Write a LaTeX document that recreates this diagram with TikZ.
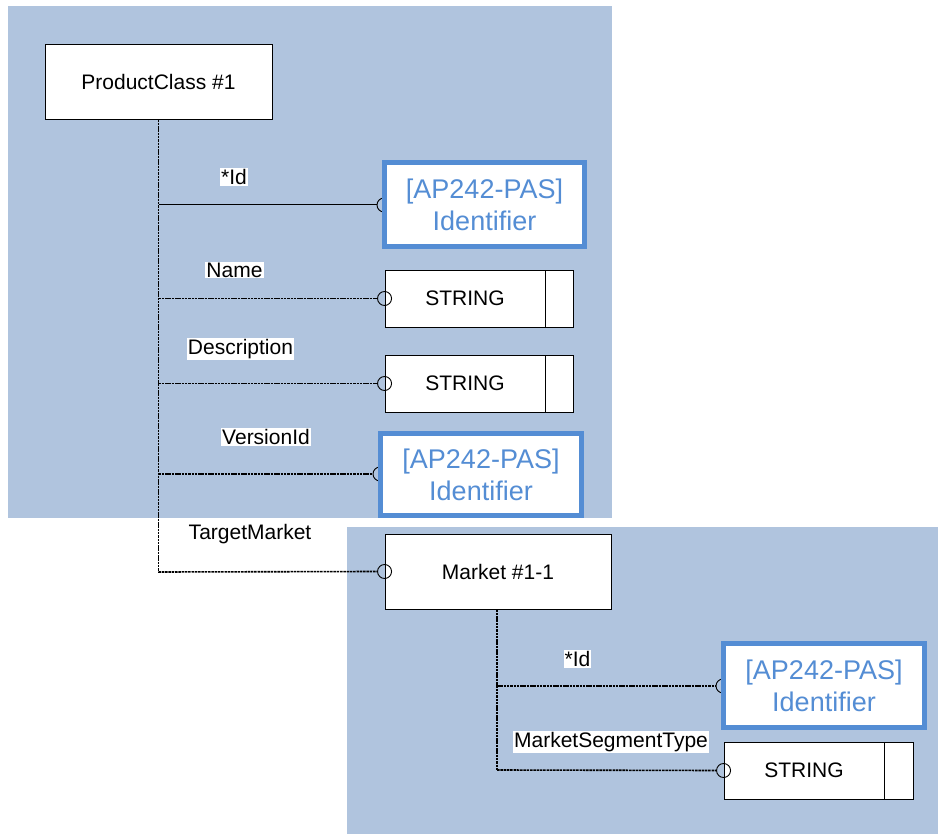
\documentclass[tikz,border=0pt]{standalone}
\usepackage{fontspec}
\setmainfont{Liberation Sans}
\definecolor{panel}{HTML}{B0C4DE}
\definecolor{idblue}{HTML}{548DD4}
\begin{document}
\begin{tikzpicture}[x=1pt,y=-1pt,
  box/.style={draw=black,line width=0.9pt,fill=white,rectangle,inner sep=0pt,font=\fontsize{21}{25}\selectfont},
  idbox/.style={draw=idblue,line width=5pt,fill=white,rectangle,inner sep=0pt,align=center,text=idblue,font=\fontsize{27}{32}\selectfont,minimum width=200pt,minimum height=84pt},
  strbox/.style={box,minimum width=160pt,minimum height=57pt},
  strtail/.style={box,minimum width=28pt,minimum height=57pt,anchor=west},
  lbl/.style={fill=white,inner sep=1pt,font=\fontsize{21}{25}\selectfont},
  conn/.style={line width=1.6pt,dash pattern=on 2.5pt off 0.8pt},
  solidconn/.style={line width=1pt},
  ring/.style={draw=black,line width=0.9pt,circle,minimum size=14pt,inner sep=0pt}
]
\useasboundingbox (0,0) rectangle (938,834);
% panels
\fill[panel] (8,6) rectangle (612,518);
\fill[panel] (347,527) rectangle (938,834);

\node[box,minimum width=227pt,minimum height=75pt] (pc) at (158.5,81.5) {ProductClass \#1};

% connectors from ProductClass
\draw[conn] (pc.south) -- (pc.south |- 0,572) coordinate (busend);

\node[ring] (r1) at (384,205) {};
\draw[solidconn] (pc.south |- r1.west) -- (r1.west);
\node[idbox] (id1) at (484.5,204.5) {[AP242-PAS]\\Identifier};

\node[ring] (r4) at (380,474) {};
\draw[conn] (pc.south |- r4.west) -- (r4.west);
\node[idbox,minimum width=201pt,minimum height=82pt] (id2) at (481,474.5) {[AP242-PAS]\\Identifier};

\node[strbox] (s1) at (465,298.5) {STRING};
\node[strtail] (s1t) at (s1.east) {};
\node[ring] (r2) at (s1.west) {};
\draw[conn] (pc.south |- s1.west) -- (r2.west);

\node[strbox] (s2) at (465,383.5) {STRING};
\node[strtail] (s2t) at (s2.east) {};
\node[ring] (r3) at (s2.west) {};
\draw[conn] (pc.south |- s2.west) -- (r3.west);

% labels
\node[lbl] (l1) at (234,177) {*Id};
\node[lbl] (l2) at (234.5,270) {Name};
\node[lbl] (l3) at (240.5,349) {Description};
\node[lbl] (l4) at (266,437) {VersionId};
\node[lbl] (l5) at (250,534) {TargetMarket};

% Market
\node[box,minimum width=226pt,minimum height=75pt] (mk) at (498,571.5) {Market \#1-1};
\node[ring] (r5) at (mk.west) {};
\draw[conn] (busend) -- (r5.west);

\draw[conn] (mk.south -| 497,0) -- (497,770) coordinate (mbusend);
\node[ring] (r6) at (723,686) {};
\draw[conn] (497,686) -- (r6.west);
\node[idbox,minimum width=201pt,minimum height=84pt] (id3) at (824,685.5) {[AP242-PAS]\\Identifier};

\node[strbox] (s3) at (804,770.5) {STRING};
\node[strtail,minimum width=29pt] (s3t) at (s3.east) {};
\node[ring] (r7) at (s3.west) {};
\draw[conn] (mbusend) -- (r7.west);

\node[lbl] (l6) at (577.5,659) {*Id};
\node[lbl] (l7) at (611,742) {MarketSegmentType};
\end{tikzpicture}
\end{document}
